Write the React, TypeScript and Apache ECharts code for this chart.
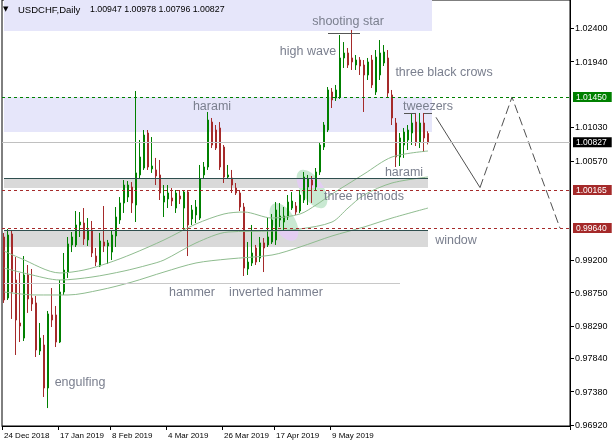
import React, { useEffect, useRef } from 'react';
import * as echarts from 'echarts';

// ---------- data ----------
const dateLabels = ['24 Dec 2018', '17 Jan 2019', '8 Feb 2019', '4 Mar 2019', '26 Mar 2019', '17 Apr 2019', '9 May 2019'];
const dateLabelIdx = [0, 14, 27, 41, 55, 68, 82];
const SLOTS = 142; // bars + empty right shift

const opens = [
  0.99517, 0.98674, 0.99559, 0.98923, 0.98329, 0.98121, 0.98992, 0.98674, 0.98606, 0.97942,
  0.98025, 0.97431, 0.98440, 0.98440, 0.98066, 0.98757, 0.99033, 0.99407, 0.99407, 0.99683,
  0.99710, 0.99476, 0.99614, 0.99254, 0.99116, 0.99448, 0.99393, 0.99309, 0.99531, 0.99752,
  0.99987, 1.00069, 1.00207, 0.99959, 1.00374, 1.00470, 1.00954, 1.00457, 1.00443, 1.00374,
  1.00000, 1.00042, 1.00056, 0.99917, 1.00083, 0.99917, 1.00138, 0.99766, 0.99821, 0.99779,
  1.00374, 1.00484, 1.01105, 1.00995, 1.01023, 1.00760, 1.00346, 1.00332, 1.00194, 1.00125,
  0.99931, 0.99075, 0.99157, 0.99365, 0.99226, 0.99435, 0.99407, 0.99448, 0.99476, 0.99752,
  0.99724, 0.99793, 0.99917, 0.99945, 0.99876, 1.00028, 1.00207, 1.00304, 1.00207, 1.00415,
  1.00760, 1.00995, 1.01520, 1.01437, 1.01451, 1.01990, 1.02059, 1.01990, 1.01893, 1.01962,
  1.01893, 1.01755, 1.01962, 1.01520, 1.01755, 1.01921, 1.01990, 1.01479, 1.01092, 1.00622,
  1.00788, 1.00857, 1.00954, 1.01105, 1.00830, 1.01092, 1.00947,
];
const closes = [
  0.98647, 0.99545, 0.98757, 0.98370, 0.98287, 0.98992, 0.98661, 0.98592, 0.97956, 0.98121,
  0.97431, 0.98454, 0.98370, 0.98066, 0.98757, 0.99061, 0.99421, 0.99517, 0.99683, 0.99724,
  0.99490, 0.99614, 0.99296, 0.99171, 0.99462, 0.99393, 0.99435, 0.99545, 0.99793, 0.99987,
  1.00235, 1.00235, 0.99987, 1.00402, 1.00622, 1.00926, 1.00484, 1.00498, 1.00360, 1.00125,
  1.00083, 1.00125, 1.00014, 1.00125, 1.00042, 1.00138, 0.99683, 0.99890, 0.99931, 1.00318,
  1.00484, 1.01133, 1.00788, 1.00746, 1.00484, 1.00346, 1.00374, 1.00235, 1.00125, 0.99931,
  0.99088, 0.99171, 0.99296, 0.99171, 0.99435, 0.99365, 0.99517, 0.99752, 0.99890, 0.99807,
  0.99807, 1.00000, 1.00014, 0.99862, 1.00097, 1.00346, 1.00318, 1.00235, 1.00415, 1.00788,
  1.01064, 1.01548, 1.01410, 1.01548, 1.01990, 1.02059, 1.01893, 1.01935, 1.01962, 1.01879,
  1.01755, 1.01935, 1.01617, 1.02003, 1.02059, 1.02072, 1.01506, 1.01161, 1.00622, 1.00885,
  1.00967, 1.00995, 1.01092, 1.00830, 1.01092, 1.00885, 1.00827,
];
const lows = [
  0.98606, 0.98647, 0.98385, 0.97887, 0.98066, 0.98080, 0.98468, 0.98495, 0.97859, 0.97887,
  0.97307, 0.97154, 0.98273, 0.97997, 0.98052, 0.98716, 0.98951, 0.99309, 0.99379, 0.99517,
  0.99407, 0.99393, 0.99240, 0.99116, 0.99102, 0.99309, 0.99144, 0.99199, 0.99379, 0.99697,
  0.99849, 1.00000, 0.99849, 0.99724, 1.00332, 1.00443, 1.00443, 1.00402, 1.00235, 1.00028,
  0.99793, 0.99917, 0.99945, 0.99849, 0.99973, 0.99614, 0.99254, 0.99683, 0.99710, 0.99752,
  1.00332, 1.00443, 1.00746, 1.00719, 1.00443, 1.00263, 1.00332, 1.00125, 1.00097, 0.99876,
  0.98978, 0.98992, 0.99116, 0.99130, 0.99171, 0.99033, 0.99379, 0.99421, 0.99407, 0.99655,
  0.99614, 0.99752, 0.99890, 0.99821, 0.99849, 0.99987, 0.99959, 0.99987, 1.00166, 1.00374,
  1.00719, 1.00967, 1.01299, 1.01396, 1.01424, 1.01852, 1.01852, 1.01824, 1.01824, 1.01755,
  1.01244, 1.01686, 1.01575, 1.01479, 1.01686, 1.01879, 1.01451, 1.01064, 1.00484, 1.00498,
  1.00609, 1.00719, 1.00788, 1.00774, 1.00746, 1.00691, 1.00796,
];
const highs = [
  0.99573, 0.99628, 0.99614, 0.99240, 0.99020, 0.99254, 0.99130, 0.99075, 0.98702, 0.98329,
  0.98163, 0.98495, 0.98812, 0.98564, 0.98923, 0.99296, 0.99517, 0.99586, 0.99876, 0.99862,
  0.99917, 0.99779, 0.99738, 0.99365, 0.99573, 0.99945, 0.99476, 0.99600, 0.99931, 1.00069,
  1.00304, 1.00290, 1.00276, 1.01534, 1.00857, 1.00995, 1.00995, 1.00898, 1.00609, 1.00581,
  1.00235, 1.00235, 1.00194, 1.00166, 1.00166, 1.00166, 1.00166, 0.99959, 1.00028, 1.00512,
  1.00553, 1.01244, 1.01161, 1.01064, 1.01105, 1.00788, 1.00512, 1.00443, 1.00263, 1.00166,
  0.99987, 0.99448, 0.99683, 0.99407, 0.99517, 0.99503, 0.99779, 0.99835, 1.00000, 0.99987,
  0.99931, 1.00097, 1.00138, 1.00000, 1.00166, 1.00415, 1.00374, 1.00360, 1.00470, 1.00816,
  1.01105, 1.01589, 1.01575, 1.01617, 1.02307, 1.02210, 1.02128, 1.02377, 1.02031, 1.02003,
  1.01962, 1.01990, 1.02031, 1.02100, 1.02238, 1.02169, 1.02100, 1.01548, 1.01161, 1.00954,
  1.01023, 1.01064, 1.01230, 1.01230, 1.01230, 1.01230, 1.00978,
];

// moving averages read at key bars: [barIndex, value]
const maFast = [[0, 0.99323], [4, 0.99226], [14, 0.99020], [20, 0.99061], [26, 0.99157], [32, 0.99282], [40, 0.99476], [48, 0.99697], [55, 0.99835], [60, 0.99862], [67, 0.99779], [74, 0.99835], [78, 0.99959], [82, 1.00111], [86, 1.00249], [90, 1.00387], [97, 1.00622], [106, 1.00705]];
const maMid = [[0, 0.99088], [6, 0.99006], [14, 0.98923], [22, 0.98964], [30, 0.99047], [36, 0.99130], [40, 0.99199], [48, 0.99435], [56, 0.99586], [67, 0.99600], [74, 0.99628], [82, 0.99724], [86, 0.99917], [90, 1.00097], [97, 1.00263], [106, 1.00346]];
const maSlow = [[0, 0.98757], [8, 0.98716], [16, 0.98716], [24, 0.98785], [32, 0.98895], [40, 0.99033], [48, 0.99158], [56, 0.99213], [67, 0.99268], [74, 0.99379], [82, 0.99531], [90, 0.99655], [97, 0.99779], [106, 0.99917]];

// projected path (right side)
const projSolid = [[108, 1.0117], [119, 1.0020]];
const projDashed = [[119, 1.0020], [127, 1.0145], [139, 0.9964]];

const yTicks = [1.024, 1.0194, 1.0103, 1.0057, 0.992, 0.9875, 0.9829, 0.9784, 0.9738, 0.9692];
const Y_MIN = 0.96906;
const Y_MAX = 1.02791;

const levelResistance = 1.0145;
const levelBid = 1.00827;
const levelSupport1 = 1.00165;
const levelSupport2 = 0.9964;

const zoneTop = [1.02363, Y_MAX];
const zoneUpper = [1.00967, 1.0145];
const grayUpper = [1.00194, 1.00332];
const grayLower = [0.99379, 0.99614];
const silverLow = 0.98882;

const notes = [
  { name: 'shooting star', x: 86, y: 1.02501 },
  { name: 'high wave', x: 76, y: 1.02086 },
  { name: 'three black crows', x: 110, y: 1.01796 },
  { name: 'harami', x: 52, y: 1.01327 },
  { name: 'tweezers', x: 106, y: 1.01327 },
  { name: 'harami', x: 100, y: 1.00415 },
  { name: 'three methods', x: 90, y: 1.00083 },
  { name: 'window', x: 113, y: 0.99476 },
  { name: 'hammer', x: 47, y: 0.98757 },
  { name: 'inverted hammer', x: 68, y: 0.98757 },
  { name: 'engulfing', x: 19, y: 0.97514 },
];

// "three methods" highlight ellipses: [barIndex, price]
const ellipseCenters = [[70, 0.99724], [77, 1.0018]];

const FONT = '"Liberation Sans", Arial, sans-serif';
const GREEN = '#008000';
const RED = '#a52a2a';
const LAV = '#e6e6fa';
const GRAY = '#d9d9d9';
const SLATE = '#2f4f4f';
const MA = '#8fbc8f';
const NOTE = '#7a7f8e';
const MINT = '#c9e9d2';
const PINK = '#e3cdf2';

function ellipsePts(cx: number, cy: number, rx: number, ry: number, rot: number) {
  const pts: number[][] = [];
  for (let k = 0; k < 72; k++) {
    const t = (k / 72) * Math.PI * 2;
    const ex = rx * Math.cos(t);
    const ey = ry * Math.sin(t);
    pts.push([cx + ex * Math.cos(rot) + ey * Math.sin(rot), cy - ex * Math.sin(rot) + ey * Math.cos(rot)]);
  }
  return pts;
}
function clipY(pts: number[][], y0: number, keepBelow: boolean) {
  const out: number[][] = [];
  const inside = (p: number[]) => (keepBelow ? p[1] >= y0 : p[1] <= y0);
  for (let i = 0; i < pts.length; i++) {
    const a = pts[i];
    const b = pts[(i + 1) % pts.length];
    const ia = inside(a);
    const ib = inside(b);
    if (ia) out.push(a);
    if (ia !== ib) {
      const t = (y0 - a[1]) / (b[1] - a[1]);
      out.push([a[0] + t * (b[0] - a[0]), y0]);
    }
  }
  return out;
}

export default function App() {
  const ref = useRef<HTMLDivElement>(null);
  useEffect(() => {
    if (!ref.current) return;
    const chart = echarts.init(ref.current, null, { renderer: 'svg' });
    const categories = Array.from({ length: SLOTS }, (_, i) => {
      const k = dateLabelIdx.indexOf(i);
      return k >= 0 ? dateLabels[k] : String(i);
    });
    const isLabel = (i: number) => dateLabelIdx.indexOf(i) >= 0;
    const candles = opens.map((o, i) => [o, closes[i], lows[i], highs[i]]);
    const tag = (txt: string, bg: string) => ({
      show: true,
      position: 'end',
      distance: 3,
      formatter: txt,
      backgroundColor: bg,
      color: '#fff',
      fontFamily: FONT,
      fontSize: 8.5,
      padding: [1, 5, 0, 3],
    });
    const seg = (a: number, b: number, v: number, color: string, type: any = 'solid') => [
      { xAxis: a, yAxis: v, lineStyle: { color, type, width: 1 } },
      { xAxis: b, yAxis: v },
    ];

    const option: any = {
      animation: false,
      textStyle: { fontFamily: FONT },
      grid: { left: 2, right: 42, top: 0, bottom: 21, show: true, borderColor: '#000', borderWidth: 1, backgroundColor: '#fff' },
      xAxis: {
        type: 'category',
        data: categories,
        boundaryGap: true,
        axisLine: { show: true, lineStyle: { color: '#000' } },
        axisTick: { show: true, interval: (i: number) => isLabel(i), length: 4, lineStyle: { color: '#000' } },
        axisLabel: {
          interval: (i: number) => isLabel(i),
          align: 'left',
          fontSize: 8,
          color: '#000',
          margin: 5,
          fontFamily: FONT,
        },
        splitLine: { show: false },
      },
      yAxis: {
        type: 'value',
        position: 'right',
        min: Y_MIN,
        max: Y_MAX,
        scale: true,
        axisLine: { show: true, lineStyle: { color: '#000' } },
        axisTick: { show: true, customValues: yTicks, length: 4, lineStyle: { color: '#000' } },
        axisLabel: { customValues: yTicks, formatter: (v: number) => v.toFixed(5), fontSize: 9, color: '#000', margin: 5, fontFamily: FONT },
        splitLine: { show: false },
      },
      series: [
        {
          type: 'candlestick',
          data: candles,
          barWidth: 2,
          itemStyle: { color: GREEN, color0: RED, borderColor: GREEN, borderColor0: RED, borderWidth: 1 },
          markArea: {
            silent: true,
            label: { show: false },
            data: [
              [{ xAxis: 0, yAxis: zoneTop[1], itemStyle: { color: LAV } }, { xAxis: 107, yAxis: zoneTop[0] }],
              [{ xAxis: 0, yAxis: zoneUpper[1], itemStyle: { color: LAV } }, { xAxis: 107, yAxis: zoneUpper[0] }],
              [{ xAxis: 0, yAxis: grayUpper[1], itemStyle: { color: GRAY } }, { xAxis: 106, yAxis: grayUpper[0] }],
              [{ xAxis: 0, yAxis: grayLower[1], itemStyle: { color: GRAY } }, { xAxis: 106, yAxis: grayLower[0] }],
            ],
          },
          markLine: {
            silent: true,
            precision: 6,
            symbol: ['none', 'none'],
            label: { show: false },
            data: [
              seg(0, 106, grayUpper[1], SLATE),
              seg(0, 106, grayLower[1], SLATE),
              seg(0, 99, silverLow, '#c8c8c8'),
              seg(81, 89, 1.02336, '#555'),
              seg(100, 103, 1.0123, '#555'),
              seg(105, 107, 1.0123, '#555'),
            ],
          },
          markPoint: {
            silent: true,
            symbol: 'circle',
            symbolSize: 1,
            itemStyle: { color: 'rgba(0,0,0,0)' },
            data: notes.map((n) => ({
              name: n.name,
              coord: [n.x, n.y],
              label: { show: true, position: 'inside', formatter: n.name, color: NOTE, fontSize: 12.5, fontFamily: FONT },
            })),
          },
        },
        {
          type: 'line',
          data: [],
          silent: true,
          markLine: {
            silent: true,
            precision: 6,
            symbol: ['none', 'none'],
            data: [
              { yAxis: levelResistance, lineStyle: { color: GREEN, type: [3, 3], width: 1 }, label: tag('1.01450', GREEN) },
              { yAxis: levelBid, lineStyle: { color: '#c0c0c0', type: 'solid', width: 1 }, label: tag('1.00827', '#000') },
              { yAxis: levelSupport1, lineStyle: { color: RED, type: [3, 3], width: 1 }, label: tag('1.00165', RED) },
              { yAxis: levelSupport2, lineStyle: { color: RED, type: [3, 3], width: 1 }, label: tag('0.99640', RED) },
            ],
          },
        },
        { type: 'line', data: maFast, smooth: 0.3, symbol: 'none', lineStyle: { color: MA, width: 1 }, z: 3 },
        { type: 'line', data: maMid, smooth: 0.3, symbol: 'none', lineStyle: { color: MA, width: 1 }, z: 3 },
        { type: 'line', data: maSlow, smooth: 0.3, symbol: 'none', lineStyle: { color: MA, width: 1 }, z: 3 },
        { type: 'line', data: projSolid, symbol: 'none', lineStyle: { color: '#505050', width: 1 } },
        { type: 'line', data: projDashed, symbol: 'none', lineStyle: { color: '#505050', width: 1, type: [9, 4] } },
      ],
    };
    chart.setOption(option);

    const px = (x: number, y: number) => chart.convertToPixel({ xAxisIndex: 0, yAxisIndex: 0 }, [x, y]) as number[];
    const e1 = px(ellipseCenters[0][0], ellipseCenters[0][1]);
    const e2 = px(ellipseCenters[1][0], ellipseCenters[1][1]);
    const gLowTop = px(0, grayLower[1])[1];
    const gUpTop = px(0, grayUpper[1])[1];
    const gUpBot = px(0, grayUpper[0])[1];
    const p1 = ellipsePts(e1[0], e1[1], 11, 21, 0.55);
    const p2 = ellipsePts(e2[0], e2[1], 11, 22, 0.6);
    const pink1 = clipY(p1, gLowTop, true);
    const pink2 = clipY(clipY(p2, gUpTop, true), gUpBot, false);
    chart.setOption({
      graphic: [
        { type: 'polygon', shape: { points: p1 }, style: { fill: MINT }, z: 1.5, silent: true },
        { type: 'polygon', shape: { points: p2 }, style: { fill: MINT }, z: 1.5, silent: true },
        { type: 'polygon', shape: { points: pink1 }, style: { fill: PINK }, z: 1.6, silent: true },
        { type: 'polygon', shape: { points: pink2 }, style: { fill: PINK }, z: 1.6, silent: true },
        { type: 'text', x: 3, y: 9, style: { text: '▼', fill: '#000', font: '7px "DejaVu Sans"', verticalAlign: 'middle' }, z: 10, silent: true },
        { type: 'text', x: 18, y: 9, style: { text: 'USDCHF,Daily', fill: '#000', font: '9.5px "Liberation Sans"', verticalAlign: 'middle' }, z: 10, silent: true },
        { type: 'text', x: 90, y: 9, style: { text: '1.00947 1.00978 1.00796 1.00827', fill: '#000', font: '8.8px "Liberation Sans"', verticalAlign: 'middle' }, z: 10, silent: true },
      ],
    });
    return () => chart.dispose();
  }, []);
  return <div ref={ref} style={{ position: 'fixed', left: 0, top: 0, width: 612, height: 447 }} />;
}
